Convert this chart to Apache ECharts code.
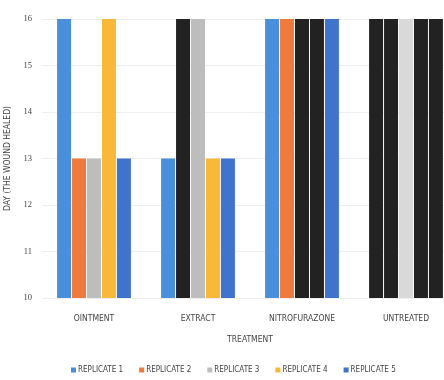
<!DOCTYPE html>
<html><head><meta charset="utf-8">
<script src="https://cdn.jsdelivr.net/npm/echarts@6/dist/echarts.min.js"></script>
<style>html,body{margin:0;padding:0;background:#fff}#c{width:444px;height:380px}</style>
</head><body><div id="c"></div>
<script>
const categories = ['OINTMENT', 'EXTRACT', 'NITROFURAZONE', 'UNTREATED'];
const seriesNames = ['REPLICATE 1', 'REPLICATE 2', 'REPLICATE 3', 'REPLICATE 4', 'REPLICATE 5'];
const replicate1 = [16, 13, 16, 16];
const replicate2 = [13, 16, 16, 16];
const replicate3 = [13, 16, 16, 16];
const replicate4 = [16, 13, 16, 16];
const replicate5 = [13, 13, 16, 16];
const yTicks = [10, 11, 12, 13, 14, 15, 16];

const values = [replicate1, replicate2, replicate3, replicate4, replicate5];
const colors = ['#4a8fdc', '#f07a3c', '#bdbdbd', '#f8b93a', '#3f73cc'];
// bars overpainted in the source image: [series, category, colour]
const overrides = [
  [1, 1, '#222222'],
  [2, 2, '#222222'], [3, 2, '#222222'],
  [0, 3, '#222222'], [1, 3, '#222222'], [2, 3, '#d9d9d9'], [3, 3, '#222222'], [4, 3, '#222222']
];

const font = '"DejaVu Sans Condensed", "Liberation Sans Narrow", "Liberation Sans", sans-serif';
const series = values.map((vals, s) => ({
  name: seriesNames[s],
  type: 'bar',
  barGap: '7%',
  barCategoryGap: '29%',
  itemStyle: { color: colors[s] },
  data: vals.map((v, c) => {
    const o = overrides.find(r => r[0] === s && r[1] === c);
    return o ? { value: v, itemStyle: { color: o[2] } } : v;
  })
}));

const chart = echarts.init(document.getElementById('c'));
chart.setOption({
  animation: false,
  textStyle: { fontFamily: font },
  grid: { left: 42, top: 19, width: 416, height: 279, containLabel: false, outerBoundsMode: 'none' },
  legend: {
    bottom: 1, left: 66, itemWidth: 5, itemHeight: 5, itemGap: 16,
    icon: 'rect',
    textStyle: { fontSize: 8, color: '#444', fontFamily: font, padding: [0, 0, 0, -3] },
    data: seriesNames
  },
  xAxis: {
    type: 'category', data: categories,
    name: 'TREATMENT', nameLocation: 'middle', nameGap: 37,
    nameTextStyle: { fontSize: 8.5, color: '#444', fontFamily: font },
    axisLine: { show: false }, axisTick: { show: false },
    axisLabel: { fontSize: 8.5, color: '#444', margin: 16, fontFamily: font }
  },
  yAxis: {
    type: 'value', min: yTicks[0], max: yTicks[yTicks.length - 1], interval: 1,
    name: 'DAY (THE WOUND HEALED)', nameLocation: 'middle', nameGap: 20, nameRotate: 90,
    nameTextStyle: { fontSize: 8.5, color: '#444', fontFamily: font },
    axisLine: { show: false }, axisTick: { show: false },
    axisLabel: { fontSize: 8.5, color: '#444', margin: 10, fontFamily: 'Liberation Serif, serif' },
    splitLine: { lineStyle: { color: '#efefef' } }
  },
  series: series
});
</script></body></html>
